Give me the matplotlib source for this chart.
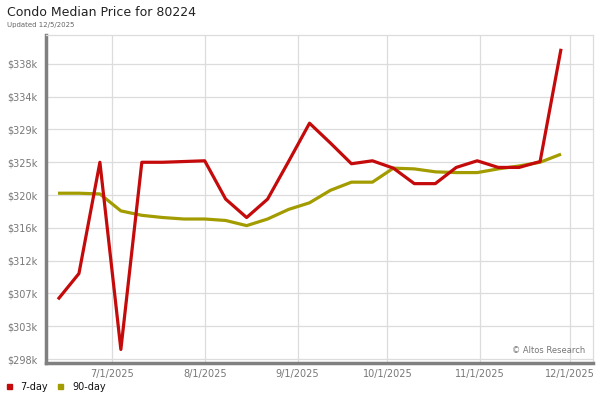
import matplotlib
matplotlib.use("Agg")
import matplotlib.pyplot as plt
import matplotlib.dates as mdates
import numpy as np
import pandas as pd

# weekly data points (values in $ thousands)
dates = ["2025-06-13", "2025-06-20", "2025-06-27", "2025-07-04", "2025-07-11",
         "2025-07-18", "2025-07-25", "2025-08-01", "2025-08-08", "2025-08-15",
         "2025-08-22", "2025-08-29", "2025-09-05", "2025-09-12", "2025-09-19",
         "2025-09-26", "2025-10-03", "2025-10-10", "2025-10-17", "2025-10-24",
         "2025-10-31", "2025-11-07", "2025-11-14", "2025-11-21", "2025-11-28"]
day7 = [306.3, 309.8, 324.9, 299.5, 324.9, 324.9, 325.0, 325.1, 319.9, 317.4,
        319.9, 325.0, 330.2, 327.5, 324.7, 325.1, 324.1, 322.0, 322.0, 324.2,
        325.1, 324.2, 324.2, 325.0, 340.3]
day90 = [320.7, 320.7, 320.6, 318.3, 317.7, 317.4, 317.2, 317.2, 317.0, 316.3,
         317.2, 318.5, 319.4, 321.1, 322.2, 322.2, 324.1, 324.0, 323.6, 323.5,
         323.5, 324.0, 324.4, 324.9, 326.0]

ytick_vals = [298.2, 302.65, 307.1, 311.55, 316.0, 320.45, 324.9, 329.35, 333.8, 338.25]
ytick_labels = ["$298k", "$303k", "$307k", "$312k", "$316k", "$320k",
                "$325k", "$329k", "$334k", "$338k"]
xtick_dates = ["2025-07-01", "2025-08-01", "2025-09-01", "2025-10-01",
               "2025-11-01", "2025-12-01"]
xtick_labels = ["7/1/2025", "8/1/2025", "9/1/2025", "10/1/2025",
                "11/1/2025", "12/1/2025"]

red = "#c40a0a"
olive = "#a39c00"

x = pd.to_datetime(dates)
fig = plt.figure(figsize=(6, 4), dpi=100)
ax = fig.add_axes([46 / 600, 1 - 363 / 400, 547 / 600, 328 / 400])

ax.plot(x, day90, color=olive, lw=2.3, solid_capstyle="butt", zorder=3)
ax.plot(x, day7, color=red, lw=2.3, solid_capstyle="butt", zorder=4)

ax.set_xlim(pd.Timestamp("2025-06-09"), pd.Timestamp("2025-12-08 16:00"))
ax.set_ylim(297.66, 342.17)

ax.set_yticks(ytick_vals)
ax.set_yticklabels(ytick_labels)
ax.set_xticks(pd.to_datetime(xtick_dates))
ax.set_xticklabels(xtick_labels)
ax.tick_params(axis="both", length=0, labelsize=7, colors="#777777")
ax.tick_params(axis="y", pad=6)
ax.tick_params(axis="x", pad=4)

ax.grid(True, color="#dcdcdc", lw=0.9)
ax.set_axisbelow(True)

for side in ["top", "right"]:
    ax.spines[side].set_color("#dcdcdc")
    ax.spines[side].set_linewidth(0.9)
for side in ["left", "bottom"]:
    ax.spines[side].set_color("#808080")
    ax.spines[side].set_linewidth(2.5)

ax.text(0.985, 0.025, "\u00a9 Altos Research", transform=ax.transAxes,
        ha="right", va="bottom", fontsize=6, color="#777777")

fig.text(7 / 600, 1 - 12 / 400, "Condo Median Price for 80224", fontsize=9,
         color="#222222", va="center", ha="left")
fig.text(7 / 600, 1 - 25 / 400, "Updated 12/5/2025", fontsize=5,
         color="#666666", va="center", ha="left")

# legend
fig.patches.append(plt.Rectangle((7 / 600, 1 - 389 / 400), 5 / 600, 5 / 400,
                                 transform=fig.transFigure, color=red))
fig.text(20 / 600, 1 - 386.5 / 400, "7-day", fontsize=7, color="#111111",
         va="center", ha="left")
fig.patches.append(plt.Rectangle((58 / 600, 1 - 389 / 400), 5 / 600, 5 / 400,
                                 transform=fig.transFigure, color=olive))
fig.text(72 / 600, 1 - 386.5 / 400, "90-day", fontsize=7, color="#111111",
         va="center", ha="left")

fig.savefig("out.png", dpi=100)
